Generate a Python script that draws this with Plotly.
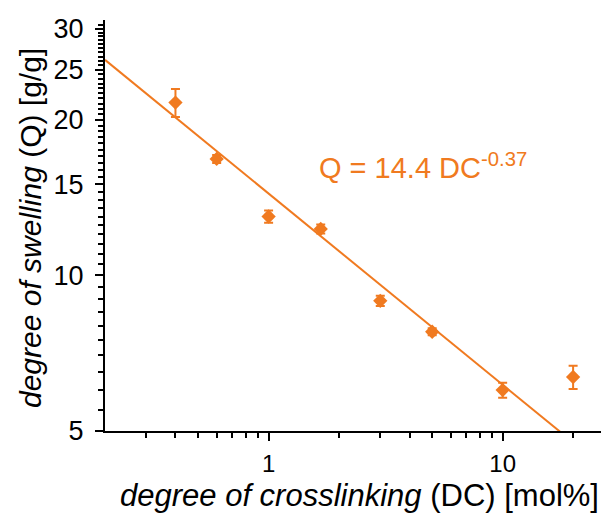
import math
import plotly.graph_objects as go

# data
dc = [0.4, 0.6, 1.0, 1.67, 3.0, 5.0, 10.0, 20.0]
q = [21.6, 16.8, 13.0, 12.3, 8.93, 7.78, 6.0, 6.36]
q_err = [1.35, 0.3, 0.35, 0.25, 0.2, 0.12, 0.2, 0.33]

fit_a = 14.4
fit_b = -0.37
fit_x = [0.2, 30.0]
fit_y = [fit_a * x ** fit_b for x in fit_x]

x_ticks = [1, 10]
y_ticks = [5, 10, 15, 20, 25, 30]
x_minor = [0.3, 0.4, 0.5, 0.6, 0.7, 0.8, 0.9, 2, 3, 4, 5, 6, 7, 8, 9, 20, 30]
y_minor = [v / 2 for v in range(11, 62) if v % 10 != 0]

ORANGE = "rgb(240,122,32)"
FONT = "Liberation Sans, Arial, sans-serif"

fig = go.Figure()
fig.add_trace(go.Scatter(x=fit_x, y=fit_y, mode="lines",
                         line=dict(color=ORANGE, width=2), showlegend=False))
fig.add_trace(go.Scatter(x=dc, y=q, mode="markers",
                         marker=dict(symbol="diamond", size=11, color=ORANGE),
                         error_y=dict(type="data", array=q_err, visible=True,
                                      color=ORANGE, thickness=2, width=4.5),
                         showlegend=False))

fig.update_xaxes(type="log", range=[math.log10(0.2), math.log10(30.8)],
                 tickvals=x_ticks, ticktext=[str(v) for v in x_ticks],
                 ticks="outside", ticklen=8, tickwidth=2, tickcolor="black",
                 showline=True, linecolor="black", linewidth=2,
                 showgrid=False, zeroline=False, ticklabelstandoff=2,
                 tickfont=dict(family=FONT, size=24, color="black"),
                 minor=dict(tickvals=x_minor, ticks="outside", ticklen=5,
                            tickwidth=2, tickcolor="black", showgrid=False))
fig.update_yaxes(type="log", range=[math.log10(5), math.log10(31.2)],
                 tickvals=y_ticks, ticktext=[str(v) for v in y_ticks],
                 ticks="outside", ticklen=8, tickwidth=2, tickcolor="black",
                 showline=True, linecolor="black", linewidth=2,
                 showgrid=False, zeroline=False, ticklabelstandoff=6,
                 tickfont=dict(family=FONT, size=27, color="black"),
                 minor=dict(tickvals=y_minor, ticks="outside", ticklen=5,
                            tickwidth=1.5, tickcolor="black", showgrid=False))

fig.add_annotation(text="<i>degree of crosslinking</i> (DC) [mol%]",
                   xref="paper", yref="paper", x=(359 - 105) / 512, y=-65 / 411,
                   xanchor="center", yanchor="middle", showarrow=False,
                   font=dict(family=FONT, size=31, color="black"))
fig.add_annotation(text="<i>degree of swelling</i> (Q) [g/g]",
                   xref="paper", yref="paper", x=0, y=(431 - 228) / 411, xshift=-75,
                   xanchor="center", yanchor="middle", textangle=-90,
                   showarrow=False,
                   font=dict(family=FONT, size=30, color="black"))
fig.add_annotation(text="Q = 14.4 DC<sup>-0.37</sup>",
                   xref="paper", yref="paper", x=(317 - 105) / 512, y=(431 - 166) / 411,
                   xanchor="left", yanchor="middle", showarrow=False,
                   font=dict(family=FONT, size=29, color=ORANGE))

fig.update_layout(width=609, height=517, margin=dict(l=97, r=0, t=12, b=94),
                  plot_bgcolor="white", paper_bgcolor="white")
fig.write_html("out.html")
